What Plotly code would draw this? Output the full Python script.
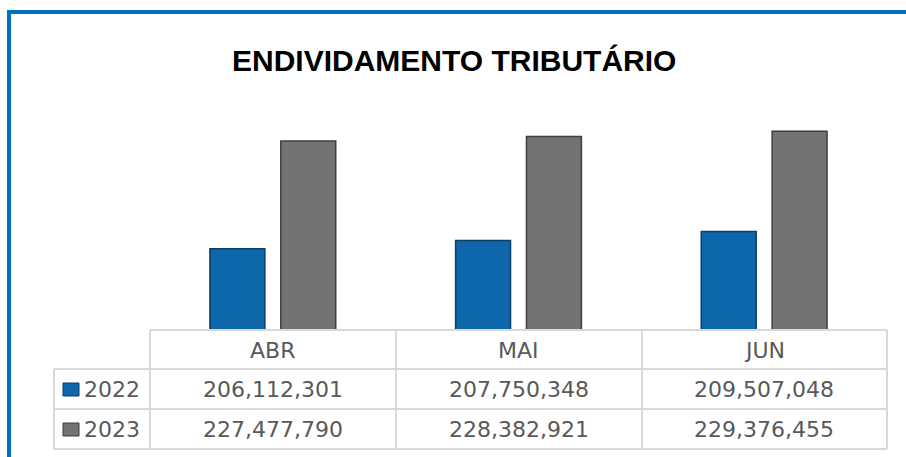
import plotly.graph_objects as go

W, H = 906, 457
categories = ["ABR", "MAI", "JUN"]
series_names = ["2022", "2023"]
values_2022 = [206112301, 207750348, 209507048]
values_2023 = [227477790, 228382921, 229376455]
colors = {"2022": "#0E67AA", "2023": "#737373"}
edge = {"2022": "#0A3F66", "2023": "#3F3F3F"}

def px(x):
    return x / W

def py(y):
    return 1 - y / H

fig = go.Figure()
for name, vals in zip(series_names, [values_2022, values_2023]):
    fig.add_trace(go.Bar(
        x=categories, y=vals, name=name,
        marker=dict(color=colors[name], line=dict(color=edge[name], width=1.5)),
        showlegend=False, hoverinfo="x+y+name",
    ))

grid = "#D9D9D9"
shapes = []
def line(x0, y0, x1, y1, color=grid, w=2):
    shapes.append(dict(type="line", xref="paper", yref="paper",
                       x0=px(x0), y0=py(y0), x1=px(x1), y1=py(y1),
                       line=dict(color=color, width=w)))

# table grid
line(150, 330, 887, 330)
for yy in (369, 409, 449):
    line(54, yy, 887, yy)
for xx in (150, 396, 642, 887):
    line(xx, 330, xx, 449)
line(54, 369, 54, 449)

# blue frame (left and top)
line(9, H, 9, 12, color="#0070C0", w=4)
line(7, 12, W, 12, color="#0070C0", w=4)

# legend keys
for i, name in enumerate(series_names):
    yc = 389.5 + 40 * i
    shapes.append(dict(type="rect", xref="paper", yref="paper",
                       x0=px(63), x1=px(79), y0=py(yc - 6.5), y1=py(yc + 6.5),
                       fillcolor=colors[name], line=dict(color=edge[name], width=1)))

txt = "#595959"
tfont = dict(family="DejaVu Sans", size=22, color=txt)
annotations = [dict(text="<b>ENDIVIDAMENTO TRIBUTÁRIO</b>", xref="paper", yref="paper",
                    x=px(454), y=py(60), xanchor="center", yanchor="middle", showarrow=False,
                    font=dict(family="Liberation Sans", size=30, color="#000000"))]
for c in categories:
    annotations.append(dict(text=c, xref="x", yref="paper", x=c, y=py(350),
                            xanchor="center", yanchor="middle", showarrow=False, font=tfont))
for i, (name, vals) in enumerate(zip(series_names, [values_2022, values_2023])):
    yc = 389 + 40 * i
    annotations.append(dict(text=name, xref="paper", yref="paper", x=px(82), y=py(yc),
                            xanchor="left", yanchor="middle", showarrow=False, font=tfont))
    for c, v in zip(categories, vals):
        annotations.append(dict(text=f"{v:,}", xref="x", yref="paper", x=c, y=py(yc),
                                xanchor="center", yanchor="middle", showarrow=False, font=tfont))

fig.update_layout(
    width=W, height=H,
    margin=dict(l=0, r=0, t=0, b=0),
    paper_bgcolor="#FFFFFF", plot_bgcolor="rgba(0,0,0,0)",
    barmode="group", bargap=0.423, bargroupgap=0.225,
    xaxis=dict(domain=[px(150), px(887)], showticklabels=False, showgrid=False,
               zeroline=False, showline=False, ticks=""),
    yaxis=dict(domain=[py(330), py(103)], range=[190e6, 235e6], showticklabels=False,
               showgrid=False, zeroline=False, showline=False, ticks=""),
    shapes=shapes, annotations=annotations,
)

fig.write_html("out.html", config={"displayModeBar": False},
               post_script="document.body.style.margin='0';document.body.style.overflow='hidden';")
